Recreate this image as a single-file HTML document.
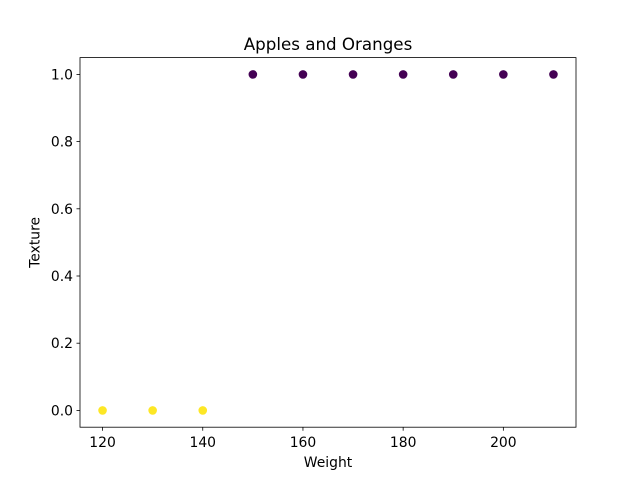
<!DOCTYPE html>
<html><head><meta charset="utf-8"><style>
body{margin:0;background:#fff;}
svg text{font-family:"DejaVu Sans","Liberation Sans",sans-serif;fill:#000;}
</style></head><body>
<svg id="chart" width="640" height="480" xmlns="http://www.w3.org/2000/svg">
<rect width="640" height="480" fill="#fff"/>
<g id="plot"></g>
</svg>
<script>
const weights=[120,130,140,150,160,170,180,190,200,210];
const textures=[0,0,0,1,1,1,1,1,1,1];
const xTicks=[120,140,160,180,200];
const yTicks=[0.0,0.2,0.4,0.6,0.8,1.0];
const yTickLabels=["0.0","0.2","0.4","0.6","0.8","1.0"];
const L=80,R=576,T=57.6,B=427.2;
const xmin=Math.min(...weights),xmax=Math.max(...weights),xp=(xmax-xmin)*0.05;
const x0=xmin-xp,x1=xmax+xp;
const ymin=Math.min(...textures),ymax=Math.max(...textures),yp=(ymax-ymin)*0.05;
const y0=ymin-yp,y1=ymax+yp;
const sx=v=>L+(v-x0)/(x1-x0)*(R-L);
const sy=v=>B-(v-y0)/(y1-y0)*(B-T);
const g=document.getElementById('plot');
const NS="http://www.w3.org/2000/svg";
function mk(t,a){const e=document.createElementNS(NS,t);for(const k in a)e.setAttribute(k,a[k]);g.appendChild(e);return e;}
weights.forEach((w,i)=>{
 const c=mk('circle',{cx:sx(w),cy:sy(textures[i]),r:4.3,fill:textures[i]>0.5?'#440154':'#fde725'});
 
 
});
const f=mk('rect',{x:L,y:T,width:R-L,height:B-T,fill:'none',stroke:'#000','stroke-width':0.8});


xTicks.forEach(v=>{
 const X=sx(v);
 mk('line',{x1:X,x2:X,y1:B,y2:B+3.5,stroke:'#000','stroke-width':0.8});
 const t=mk('text',{x:X,y:B+20,'text-anchor':'middle','font-size':13.9});
 t.textContent=v;
 
 
});
yTicks.forEach((v,i)=>{
 const Y=sy(v);
 mk('line',{x1:L-3.5,x2:L,y1:Y,y2:Y,stroke:'#000','stroke-width':0.8});
 const t=mk('text',{x:L-7,y:Y+5,'text-anchor':'end','font-size':13.9});
 t.textContent=yTickLabels[i];
 
 
});
const xt=mk('text',{x:(L+R)/2,y:467,'text-anchor':'middle','font-size':13.9});
xt.textContent='Weight';


const yt=mk('text',{x:0,y:0,'text-anchor':'middle','font-size':13.9,transform:`translate(39.5,${(T+B)/2}) rotate(-90)`});
yt.textContent='Texture';


const tt=mk('text',{x:(L+R)/2,y:50,'text-anchor':'middle','font-size':16.7});
tt.textContent='Apples and Oranges';


</script>
</body></html>
